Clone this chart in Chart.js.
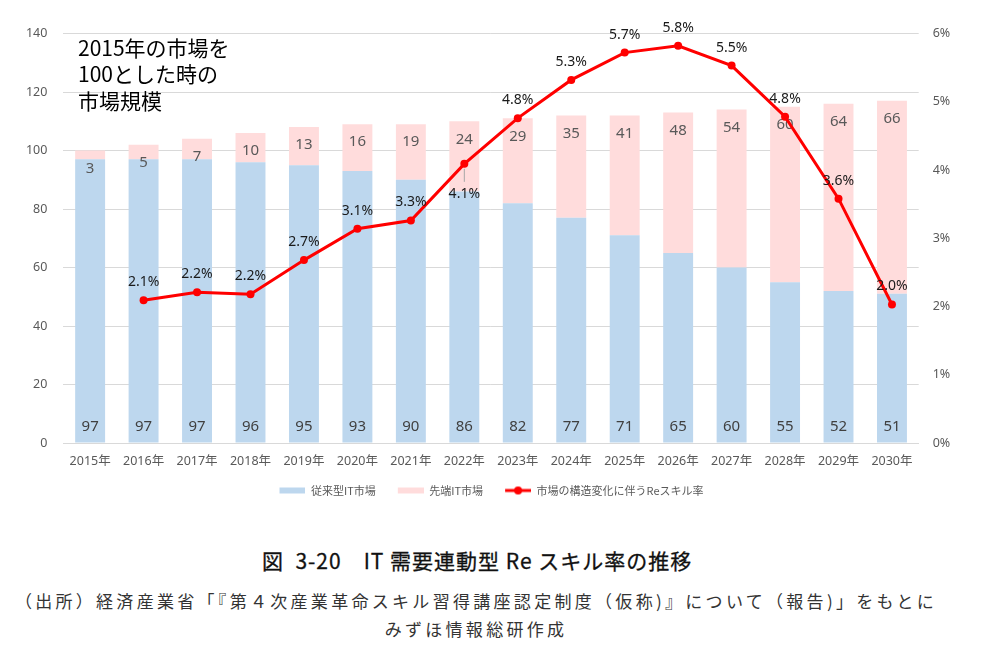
<!DOCTYPE html>
<html>
<head>
<meta charset="utf-8">
<script src="https://cdn.jsdelivr.net/npm/chart.js@4.4.1/dist/chart.umd.min.js"></script>
<style>
html,body{margin:0;padding:0;background:#fff;}
#wrap{position:relative;width:997px;height:668px;overflow:hidden;}
#cv{position:absolute;left:0;top:0;}
#note{position:absolute;left:78px;top:33.5px;font-family:"Noto Sans CJK JP";font-size:21px;line-height:26.5px;color:#000;}
#title{position:absolute;left:262px;top:547px;font-family:"Noto Sans CJK JP";font-size:21px;line-height:26px;color:#111;white-space:pre;font-weight:400;letter-spacing:1px;-webkit-text-stroke:0.3px #111;}
#source{position:absolute;left:0;top:587px;width:952px;text-align:center;font-family:"Noto Sans CJK JP";font-size:17px;line-height:27.5px;letter-spacing:3.3px;color:#333;white-space:nowrap;}
</style>
</head>
<body>
<div id="wrap">
<canvas id="cv" width="997" height="506"></canvas>
<div id="note">2015年の市場を<br>100とした時の<br>市場規模</div>
<div id="title">図  3-20　IT 需要連動型 Re スキル率の推移</div>
<div id="source">（出所）経済産業省「『第４次産業革命スキル習得講座認定制度（仮称)』について（報告)」をもとに<br>みずほ情報総研作成</div>
</div>
<script>
// ---- data ----
const categories = ['2015年','2016年','2017年','2018年','2019年','2020年','2021年','2022年','2023年','2024年','2025年','2026年','2027年','2028年','2029年','2030年'];
const legacyIT   = [97,97,97,96,95,93,90,86,82,77,71,65,60,55,52,51];
const advancedIT = [3,5,7,10,13,16,19,24,29,35,41,48,54,60,64,66];
const reskillRate = [null,2.09,2.21,2.18,2.68,3.14,3.26,4.09,4.76,5.32,5.72,5.82,5.53,4.78,3.58,2.03];
const seriesNames = ['従来型IT市場','先端IT市場','市場の構造変化に伴うReスキル率'];
const leftAxisMax = 140, leftAxisStep = 20;
const rightAxisMax = 6, rightAxisStep = 1;

const BLUE = '#BDD7EE', PINK = '#FFDCDC', RED = '#FF0000';
const NUMFONT = '"Noto Sans", "Noto Sans CJK JP", sans-serif';

function makeIcon(kind){
  const c = document.createElement('canvas');
  c.width = 38; c.height = 10;
  const g = c.getContext('2d');
  const x0 = 12;
  if (kind === 'line'){
    g.strokeStyle = RED; g.lineWidth = 3;
    g.beginPath(); g.moveTo(x0,5); g.lineTo(x0+26,5); g.stroke();
    g.fillStyle = RED; g.beginPath(); g.arc(x0+13,5,4,0,Math.PI*2); g.fill();
  } else {
    g.fillStyle = kind; g.fillRect(x0,2,26,6);
  }
  return c;
}
const icons = [makeIcon(BLUE), makeIcon(PINK), makeIcon('line')];

function drawBarLabels(chart){
  const ctx = chart.ctx;
  const m0 = chart.getDatasetMeta(0), m1 = chart.getDatasetMeta(1);
  ctx.save();
  ctx.textAlign = 'center';
  ctx.textBaseline = 'middle';
  ctx.font = '15px ' + NUMFONT;
  ctx.fillStyle = '#404040';
  m0.data.forEach((el,j)=>{ ctx.fillText(String(legacyIT[j]), el.x, el.base - 16); });
  ctx.fillStyle = '#595959';
  m1.data.forEach((el,j)=>{ ctx.fillText(String(advancedIT[j]), el.x, el.y + 18); });
  ctx.restore();
}

const labelPlugin = {
  id: 'valueLabels',
  afterUpdate(chart){
    if (chart.legend){ chart.legend.left -= 13; chart.legend.right -= 13; }
  },
  afterDatasetDraw(chart, args){
    const ctx = chart.ctx, meta = args.meta, i = args.index;
    if (i === 0){ drawBarLabels(chart); return; }
    if (i !== 2) return;
    ctx.save();
    ctx.textAlign = 'center';
    ctx.textBaseline = 'middle';
    ctx.font = '14px ' + NUMFONT; ctx.fillStyle = '#1a1a1a';
    meta.data.forEach((el,j)=>{
      const v = reskillRate[j];
      if (v === null || el.skip) return;
      const txt = v.toFixed(1) + '%';
      if (categories[j] === '2022年'){
        ctx.strokeStyle = '#A6A6A6'; ctx.lineWidth = 1;
        ctx.beginPath(); ctx.moveTo(el.x, el.y + 5); ctx.lineTo(el.x, el.y + 18); ctx.stroke();
        ctx.fillText(txt, el.x, el.y + 30);
      } else {
        ctx.fillText(txt, el.x, el.y - 18);
      }
    });
    ctx.restore();
  }
};

new Chart(document.getElementById('cv'), {
  data: {
    labels: categories,
    datasets: [
      { type:'bar', label: seriesNames[0], data: legacyIT, backgroundColor: BLUE, stack:'s', yAxisID:'y', order:1,
        categoryPercentage:0.8, barPercentage:0.7 },
      { type:'bar', label: seriesNames[1], data: advancedIT, backgroundColor: PINK, stack:'s', yAxisID:'y', order:1,
        categoryPercentage:0.8, barPercentage:0.7 },
      { type:'line', label: seriesNames[2], data: reskillRate, yAxisID:'y1', order:0,
        borderColor: RED, backgroundColor: RED, borderWidth:3, tension:0,
        pointRadius:4, pointBackgroundColor: RED, pointBorderWidth:0, spanGaps:false }
    ]
  },
  options: {
    responsive:false, animation:false, devicePixelRatio:1,
    layout: { padding: { top:33.5, left:0, right:0, bottom:0 } },
    plugins: {
      tooltip: { enabled:false },
      legend: {
        position:'bottom',
        labels: {
          usePointStyle:true, pointStyleWidth:38, padding:10,
          color:'#595959', font:{ family:'"Noto Sans CJK JP"', size:11 },
          sort:(a,b)=> a.datasetIndex - b.datasetIndex,
          generateLabels(chart){
            const items = Chart.defaults.plugins.legend.labels.generateLabels(chart);
            items.forEach((it)=>{ it.pointStyle = icons[it.datasetIndex]; });
            return items;
          }
        }
      }
    },
    scales: {
      x: {
        stacked:true,
        grid:{ display:false, drawTicks:false },
        border:{ display:true, color:'#D9D9D9', width:1 },
        ticks:{ color:'#595959', font:{ family:NUMFONT, size:12.5 }, padding:11, maxRotation:0 },
        afterFit(s){ s.height = 32; }
      },
      y: {
        stacked:true, position:'left', min:0, max:leftAxisMax,
        ticks:{ stepSize:leftAxisStep, color:'#595959', font:{ family:NUMFONT, size:12.5 }, padding:16 },
        grid:{ color:'#D9D9D9', drawTicks:false },
        border:{ display:false },
        afterFit(s){ s.width = 63.4; }
      },
      y1: {
        position:'right', min:0, max:rightAxisMax,
        ticks:{ stepSize:rightAxisStep, color:'#595959', font:{ family:NUMFONT, size:12.5 }, padding:14,
          callback:(v)=> v + '%' },
        grid:{ display:false, drawTicks:false },
        border:{ display:false },
        afterFit(s){ s.width = 78.3; }
      }
    }
  },
  plugins:[labelPlugin]
});
</script>
</body>
</html>
